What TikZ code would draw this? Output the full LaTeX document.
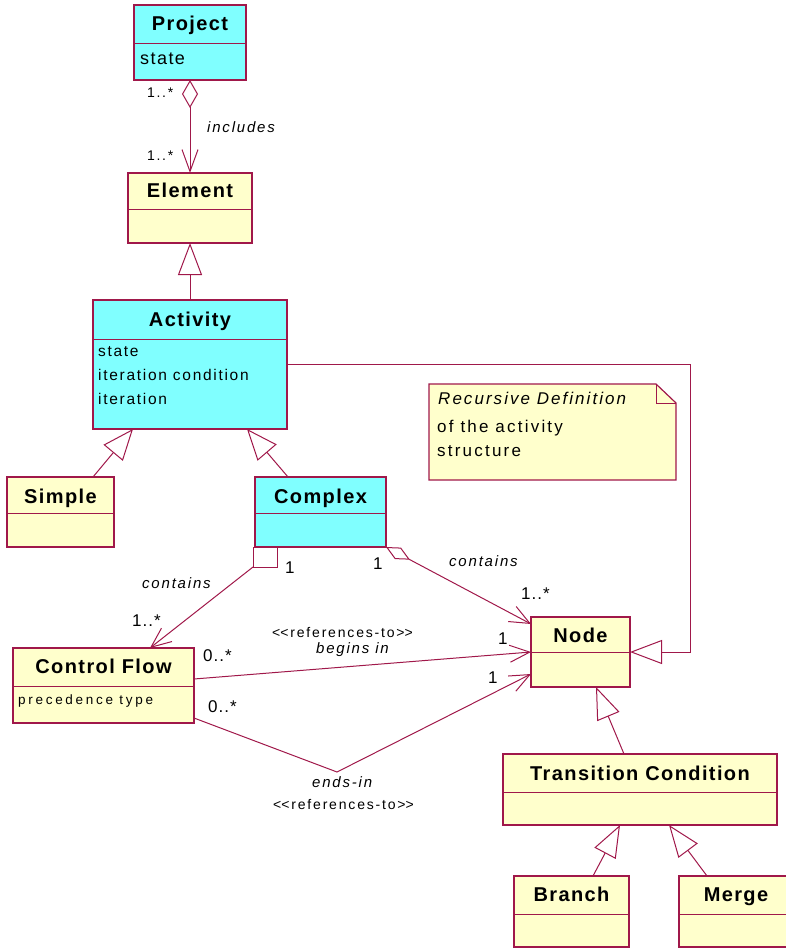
\documentclass[tikz,border=0pt]{standalone}
\usepackage{fontspec}
\setmainfont{Liberation Sans}
\usetikzlibrary{arrows.meta,calc}

\definecolor{umlline}{HTML}{A0184A}
\definecolor{umlcyan}{HTML}{80FFFF}
\definecolor{umlyellow}{HTML}{FFFFCC}

\tikzset{
  classbox/.style={draw=umlline, line width=1.5pt, anchor=north west, inner sep=0pt, outer sep=0pt},
  cyanbox/.style={classbox, fill=umlcyan},
  yellowbox/.style={classbox, fill=umlyellow},
  divider/.style={draw=umlline, line width=1pt},
  classname/.style={anchor=base, inner sep=0pt, font=\fontsize{20}{24}\selectfont\bfseries\addfontfeature{LetterSpace=7}},
  attr/.style={anchor=base west, inner sep=0pt, font=\fontsize{15.5}{18}\selectfont\addfontfeature{LetterSpace=11}},
  bigattr/.style={anchor=base west, inner sep=0pt, font=\fontsize{18}{21}\selectfont\addfontfeature{LetterSpace=8}},
  smallattr/.style={anchor=base west, inner sep=0pt, font=\fontsize{13.5}{16}\selectfont\addfontfeature{LetterSpace=20}},
  mult/.style={anchor=base west, inner sep=0pt, font=\fontsize{17}{20}\selectfont\addfontfeature{LetterSpace=6}},
  smallmult/.style={anchor=base west, inner sep=0pt, font=\fontsize{14}{17}\selectfont\addfontfeature{LetterSpace=12}},
  role/.style={anchor=base west, inner sep=0pt, font=\fontsize{15}{18}\selectfont\itshape\addfontfeature{LetterSpace=12}},
  stereo/.style={anchor=base west, inner sep=0pt, font=\fontsize{14}{17}\selectfont\addfontfeature{LetterSpace=13}},
  notetext/.style={anchor=base west, inner sep=0pt, font=\fontsize{17}{20}\selectfont\addfontfeature{LetterSpace=13}},
  assoc/.style={draw=umlline, line width=1pt},
  navto/.style={assoc, -{Straight Barb[length=20pt,width=17pt]}},
  gen/.style={assoc, -{Triangle[fill=white,length=32pt,width=24pt]}},
  agg/.style={assoc, {Diamond[fill=white,length=27pt,width=13pt]}-{Straight Barb[length=20pt,width=17pt]}},
}

\begin{document}
\begin{tikzpicture}[x=1pt, y=-1pt]
\useasboundingbox (0,0) rectangle (786,950);

% ---------- classes ----------
\node[cyanbox, minimum width=112pt, minimum height=75pt] (project) at (134,5) {};
\draw[divider] (134,44) -- (246,44);
\node[classname] (projectname) at (190,31) {Project};
\node[bigattr] (projectstate) at (140,65) {state};

\node[yellowbox, minimum width=124pt, minimum height=70pt] (element) at (128,173) {};
\draw[divider] (128,209) -- (252,209);
\node[classname] (elementname) at (190,197) {Element};

\node[cyanbox, minimum width=194pt, minimum height=129pt] (activity) at (93,300) {};
\draw[divider] (93,339) -- (287,339);
\node[classname] (activityname) at (190,326) {Activity};
\node[attr] (actstate) at (98,356) {state};
\node[attr] (actcond) at (98,380) {iteration condition};
\node[attr] (actiter) at (98,404) {iteration};

\node[yellowbox, minimum width=107pt, minimum height=70pt] (simple) at (7,477) {};
\draw[divider] (7,513) -- (114,513);
\node[classname] (simplename) at (60.5,503) {Simple};

\node[cyanbox, minimum width=131pt, minimum height=70pt] (complex) at (255,477) {};
\draw[divider] (255,513) -- (386,513);
\node[classname] (complexname) at (320.5,503) {Complex};

\node[yellowbox, minimum width=181pt, minimum height=75pt] (controlflow) at (13,648) {};
\draw[divider] (13,686) -- (194,686);
\node[classname] (controlflowname) at (103.5,673) {Control Flow};
\node[smallattr] (cfprec) at (18,704) {precedence type};

\node[yellowbox, minimum width=99pt, minimum height=70pt] (nodebox) at (531,617) {};
\draw[divider] (531,652) -- (630,652);
\node[classname] (nodename) at (580.5,642) {Node};

\node[yellowbox, minimum width=274pt, minimum height=71pt] (transition) at (503,754) {};
\draw[divider] (503,792) -- (777,792);
\node[classname] (transitionname) at (640,780) {Transition Condition};

\node[yellowbox, minimum width=115pt, minimum height=71pt] (branch) at (514,876) {};
\draw[divider] (514,914) -- (629,914);
\node[classname] (branchname) at (571.5,901) {Branch};

\node[yellowbox, minimum width=114pt, minimum height=71pt] (merge) at (679,876) {};
\draw[divider] (679,914) -- (793,914);
\node[classname] (mergename) at (736,901) {Merge};

% ---------- note ----------
\filldraw[draw=umlline, fill=umlyellow, line width=1.2pt]
  (429,384) -- (656,384) -- (676,403) -- (676,480) -- (429,480) -- cycle;
\draw[umlline, line width=1pt] (656,384) -- (656,403) -- (676,403);
\node[notetext, font=\fontsize{17}{20}\selectfont\itshape\addfontfeature{LetterSpace=12}] (notetitle) at (438,404) {Recursive Definition};
\node[notetext] (noteline1) at (437,432) {of the activity};
\node[notetext] (noteline2) at (437,456) {structure};

% ---------- connectors ----------
% aggregation: project includes elements
\draw[assoc, {Diamond[fill=white,length=28pt,width=16pt]}-{Straight Barb[length=22pt,width=16pt]}]
  (project.south) -- (element.north);
\node[smallmult] (projmult) at (147,97) {1..*};
\node[smallmult] (elemmult) at (147,160) {1..*};
\node[role] (includes) at (207,132) {includes};

% generalisations
\draw[gen] (activity.north) -- (element.south);
\draw[assoc, -{Triangle[fill=white,length=31pt,width=25pt]}]
  ([xshift=32.5pt]simple.north) -- ([xshift=-57pt]activity.south);
\draw[assoc, -{Triangle[fill=white,length=31pt,width=25pt]}]
  ([xshift=-32.5pt]complex.north) -- ([xshift=57pt]activity.south);
\coordinate (recbend) at (690,652);
\draw[gen] (activity.east) -| (recbend) -- (nodebox.east);
\draw[gen] ([xshift=-16pt]transition.north) -- ([xshift=15.5pt]nodebox.south);
\draw[gen] ([xshift=21.5pt]branch.north) -- ([xshift=-20pt]transition.south);
\draw[gen] ([xshift=-29pt]merge.north) -- ([xshift=29pt]transition.south);

% complex contains control flows
\node[draw=umlline, line width=1pt, fill=white, minimum width=24pt, minimum height=20pt,
  inner sep=0pt, outer sep=0pt, anchor=north west] (compsq) at (253,547) {};
\draw[navto] (compsq.south west) -- ([xshift=46.5pt]controlflow.north);
\node[role] (containscf) at (142,588) {contains};
\node[mult] (cfmult) at (132,626) {1..*};
\node[mult] (sqmult) at (285,573) {1};

% complex contains nodes
\draw[agg] (complex.south east) -- ([yshift=-7pt]nodebox.north west);
\node[mult] (dmult) at (373,569) {1};
\node[role] (containsnode) at (449,566) {contains};
\node[mult] (nodemult) at (521,599) {1..*};

% control flow begins in a node
\draw[navto] ([yshift=6.5pt]controlflow.east) -- (nodebox.west);
\node[stereo] (refs1) at (272,637) {<\kern0pt<references-to>\kern0pt>};
\node[role] (beginsin) at (316,653) {begins in};
\node[mult] (beginsmult) at (203,661) {0..*};
\node[mult] (beginsone) at (498,644) {1};

% control flow ends in a node
\coordinate (endsbend) at (337,772);
\draw[navto] ([yshift=-32.5pt]controlflow.east) -- (endsbend) -- ([yshift=-22pt]nodebox.west);
\node[mult] (endsmult) at (208,712) {0..*};
\node[mult] (endsone) at (488,683) {1};
\node[role] (endsin) at (312,787) {ends-in};
\node[stereo] (refs2) at (273,809) {<\kern0pt<references-to>\kern0pt>};
\end{tikzpicture}
\end{document}
